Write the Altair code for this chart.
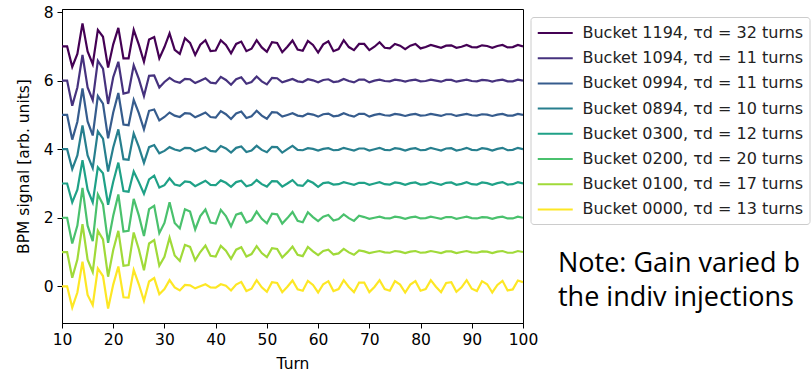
import altair as alt
import pandas as pd

turns = list(range(10, 101))
x_ticks = [10, 20, 30, 40, 50, 60, 70, 80, 90, 100]
y_ticks = [0, 2, 4, 6, 8]

buckets = [
    "Bucket 1194, τd = 32 turns",
    "Bucket 1094, τd = 11 turns",
    "Bucket 0994, τd = 11 turns",
    "Bucket 0894, τd = 10 turns",
    "Bucket 0300, τd = 12 turns",
    "Bucket 0200, τd = 20 turns",
    "Bucket 0100, τd = 17 turns",
    "Bucket 0000, τd = 13 turns",
]
colors = ["#440154", "#46327e", "#365c8d", "#277f8e",
          "#1fa187", "#4ac16d", "#a0da39", "#fde725"]

s1194 = [7.00, 7.00, 6.40, 6.78, 7.67, 6.85, 6.48, 7.48, 7.28, 6.38,
         7.06, 7.54, 6.65, 6.65, 7.48, 7.05, 6.55, 7.20, 7.27, 6.65,
         6.98, 7.38, 6.90, 6.78, 7.24, 7.10, 6.75, 7.05, 7.18, 6.86,
         6.88, 7.18, 7.04, 6.80, 7.07, 7.14, 6.86, 6.93, 7.18, 6.97,
         6.84, 7.12, 7.10, 6.83, 6.99, 7.17, 6.91, 6.87, 7.16, 7.04,
         6.82, 7.06, 7.15, 6.86, 6.92, 7.18, 6.98, 6.89, 7.07, 7.07,
         6.89, 6.99, 7.12, 6.96, 6.94, 7.07, 7.02, 6.92, 7.02, 7.07,
         6.94, 6.98, 7.04, 7.00, 6.96, 7.02, 7.03, 6.96, 6.99, 7.04,
         6.98, 6.97, 7.03, 7.01, 6.96, 7.01, 7.04, 6.97, 6.98, 7.04, 7.00]
s1094 = [6.00, 6.00, 5.27, 5.80, 6.75, 5.80, 5.43, 6.58, 6.35, 5.32,
         6.10, 6.55, 5.62, 5.66, 6.45, 6.05, 5.55, 6.14, 6.15, 5.80,
         5.96, 6.08, 5.98, 5.94, 6.05, 6.04, 5.93, 6.00, 6.07, 5.94,
         5.92, 6.11, 6.02, 5.88, 6.04, 6.10, 5.91, 5.96, 6.12, 5.98,
         5.89, 6.08, 6.07, 5.95, 6.00, 6.05, 5.98, 5.96, 6.04, 6.01,
         5.95, 6.02, 6.04, 5.96, 5.98, 6.05, 5.99, 5.95, 6.03, 6.03,
         5.95, 6.00, 6.03, 5.99, 5.98, 6.03, 6.01, 5.97, 6.01, 6.03,
         5.98, 5.99, 6.03, 6.00, 5.97, 6.02, 6.02, 5.97, 6.00, 6.03,
         5.99, 5.98, 6.02, 6.01, 5.97, 6.01, 6.03, 5.98, 5.98, 6.03, 6.00]
s0994 = [5.00, 5.00, 4.28, 4.80, 5.77, 4.81, 4.40, 5.55, 5.33, 4.32,
         5.07, 5.64, 4.72, 4.70, 5.44, 5.05, 4.58, 5.12, 5.16, 4.84,
         4.94, 5.07, 4.98, 4.94, 5.05, 5.04, 4.93, 5.00, 5.07, 4.94,
         4.92, 5.11, 5.02, 4.88, 5.04, 5.10, 4.91, 4.96, 5.12, 4.98,
         4.89, 5.08, 5.07, 4.95, 5.00, 5.05, 4.98, 4.96, 5.04, 5.01,
         4.95, 5.02, 5.04, 4.96, 4.98, 5.05, 4.99, 4.95, 5.03, 5.03,
         4.95, 5.00, 5.03, 4.99, 4.98, 5.03, 5.01, 4.97, 5.01, 5.03,
         4.98, 4.99, 5.03, 5.00, 4.97, 5.02, 5.02, 4.97, 5.00, 5.03,
         4.99, 4.98, 5.02, 5.01, 4.97, 5.01, 5.03, 4.98, 4.98, 5.03, 5.00]
s0894 = [4.00, 4.00, 3.42, 3.82, 4.69, 3.82, 3.45, 4.52, 4.31, 3.35,
         4.05, 4.58, 3.71, 3.69, 4.46, 4.07, 3.60, 4.06, 4.12, 3.88,
         3.95, 4.06, 3.99, 3.95, 4.04, 4.03, 3.94, 4.00, 4.06, 3.95,
         3.93, 4.09, 4.02, 3.90, 4.04, 4.08, 3.92, 3.96, 4.10, 3.98,
         3.91, 4.07, 4.06, 3.90, 4.00, 4.10, 3.98, 3.97, 4.03, 4.01,
         3.96, 4.01, 4.03, 3.97, 3.98, 4.04, 4.00, 3.96, 4.02, 4.02,
         3.96, 4.00, 4.04, 3.98, 3.97, 4.03, 4.01, 3.96, 4.01, 4.03,
         3.97, 3.98, 4.04, 4.00, 3.96, 4.02, 4.03, 3.96, 3.99, 4.04,
         3.98, 3.97, 4.03, 4.01, 3.96, 4.01, 4.04, 3.97, 3.98, 4.04, 4.00]
s0300 = [3.00, 3.00, 2.45, 2.82, 3.68, 2.82, 2.45, 3.47, 3.30, 2.38,
         3.05, 3.61, 2.78, 2.76, 3.35, 3.04, 2.70, 3.12, 3.23, 2.88,
         2.95, 3.15, 2.97, 2.93, 3.06, 3.04, 2.92, 3.00, 3.08, 2.96,
         2.95, 3.09, 3.02, 2.90, 3.04, 3.08, 2.92, 2.96, 3.10, 2.98,
         2.91, 3.07, 3.06, 2.91, 3.00, 3.10, 2.95, 2.93, 3.09, 3.02,
         2.90, 3.01, 3.03, 2.97, 2.98, 3.04, 3.00, 2.96, 3.02, 3.02,
         2.96, 3.00, 3.04, 2.98, 2.97, 3.03, 3.01, 2.96, 3.01, 3.03,
         2.97, 2.98, 3.04, 3.00, 2.96, 3.02, 3.03, 2.96, 2.99, 3.04,
         2.98, 2.97, 3.03, 3.01, 2.96, 3.01, 3.04, 2.97, 2.98, 3.04, 3.00]
s0200 = [2.00, 2.00, 1.25, 1.77, 2.87, 1.77, 1.32, 2.68, 2.39, 1.27,
         2.06, 2.68, 1.60, 1.62, 2.55, 2.07, 1.47, 2.25, 2.35, 1.55,
         1.85, 2.45, 1.85, 1.69, 2.25, 2.18, 1.66, 2.05, 2.24, 1.86,
         1.83, 2.23, 2.05, 1.75, 2.09, 2.14, 1.86, 1.93, 2.18, 1.97,
         1.84, 2.12, 2.10, 1.83, 1.99, 2.17, 1.91, 1.87, 2.16, 2.02,
         1.90, 2.03, 2.08, 1.92, 1.96, 2.10, 1.99, 1.91, 2.06, 2.02,
         1.97, 2.00, 2.03, 1.99, 1.98, 2.03, 2.01, 1.97, 2.01, 2.03,
         1.98, 1.99, 2.03, 2.00, 1.97, 2.02, 2.02, 1.97, 2.00, 2.03,
         1.99, 1.98, 2.02, 2.01, 1.97, 2.01, 2.03, 1.98, 1.98, 2.03, 2.00]
s0100 = [1.00, 1.00, 0.25, 0.78, 1.81, 0.78, 0.42, 1.62, 1.37, 0.28,
         1.06, 1.62, 0.60, 0.62, 1.57, 1.08, 0.47, 1.25, 1.35, 0.60,
         0.86, 1.42, 0.90, 0.74, 1.21, 1.15, 0.76, 1.00, 1.19, 0.89,
         0.87, 1.18, 1.04, 0.80, 1.07, 1.14, 0.87, 0.94, 1.17, 0.97,
         0.85, 1.11, 1.09, 0.84, 0.99, 1.16, 0.92, 0.88, 1.15, 1.02,
         0.91, 1.03, 1.07, 0.93, 0.96, 1.09, 0.99, 0.92, 1.05, 1.02,
         0.97, 1.00, 1.03, 0.99, 0.98, 1.03, 1.01, 0.97, 1.01, 1.03,
         0.98, 0.99, 1.03, 1.00, 0.97, 1.02, 1.02, 0.97, 1.00, 1.03,
         0.99, 0.98, 1.02, 1.01, 0.97, 1.01, 1.03, 0.98, 0.98, 1.03, 1.00]
s0000 = [0.00, 0.00, -0.62, -0.18, 0.72, -0.25, -0.55, 0.52, 0.30, -0.65,
         0.05, 0.58, -0.32, -0.33, 0.48, 0.06, -0.42, 0.14, 0.24, -0.23,
         -0.08, 0.18, -0.03, -0.12, 0.04, 0.03, -0.06, 0.00, 0.06, -0.03,
         -0.04, 0.06, 0.02, -0.12, 0.05, 0.13, -0.14, -0.07, 0.18, -0.03,
         -0.16, 0.12, 0.10, -0.17, -0.01, 0.17, -0.09, -0.13, 0.16, 0.04,
         -0.18, 0.06, 0.15, -0.14, -0.08, 0.18, -0.02, -0.17, 0.11, 0.11,
         -0.17, -0.02, 0.18, -0.08, -0.13, 0.15, 0.05, -0.18, 0.05, 0.15,
         -0.13, -0.08, 0.18, -0.01, -0.17, 0.10, 0.12, -0.16, -0.03, 0.18,
         -0.07, -0.14, 0.15, 0.06, -0.18, 0.04, 0.16, -0.12, -0.09, 0.17, 0.12]

series = [s1194, s1094, s0994, s0894, s0300, s0200, s0100, s0000]
note_lines = ["Note: Gain varied b", "the indiv injections"]

rows = []
for label, vals in zip(buckets, series):
    for t, v in zip(turns, vals):
        rows.append({"Turn": t, "signal": v, "bucket": label})
df = pd.DataFrame(rows)

FONT = "DejaVu Sans"

lines = alt.Chart(df).mark_line(strokeWidth=2.2, clip=True).encode(
    x=alt.X("Turn:Q",
            scale=alt.Scale(domain=[10, 100], nice=False, zero=False),
            axis=alt.Axis(values=x_ticks, title="Turn", format="d", titlePadding=9)),
    y=alt.Y("signal:Q",
            scale=alt.Scale(domain=[-1.07, 8.09], nice=False, zero=False),
            axis=alt.Axis(values=y_ticks, title="BPM signal [arb. units]", format="d",
                          titlePadding=12)),
    color=alt.Color("bucket:N",
                    scale=alt.Scale(domain=buckets, range=colors),
                    sort=buckets,
                    legend=alt.Legend(
                        title=None, orient="none", legendX=468.5, legendY=8,
                        symbolType="M-1,0H3", symbolSize=306, symbolStrokeWidth=2,
                        labelFont=FONT, labelFontSize=16, labelColor="#222222",
                        labelLimit=0, labelOffset=26, rowPadding=7.2,
                        strokeColor="#cccccc", fillColor="white", padding=6,
                        cornerRadius=3)),
)

note = alt.Chart(pd.DataFrame({"k": [0]})).mark_text(
    text=note_lines, font="Open Sans", fontSize=27, align="left",
    baseline="alphabetic", lineHeight=34, color="black"
).encode(x=alt.value(496), y=alt.value(262.5))

chart = alt.layer(lines, note).properties(
    width=461, height=314,
    autosize=alt.AutoSizeParams(type="none"),
    padding={"left": 62, "top": 9, "right": 288, "bottom": 51},
).configure_view(
    stroke="black", strokeWidth=1
).configure_axis(
    labelFont=FONT, labelFontSize=15.5, labelColor="black",
    titleFont=FONT, titleFontSize=15.5, titleFontWeight="normal", titleColor="black",
    domainColor="black", tickColor="black", tickSize=5, grid=False,
    labelPadding=4, labelFlush=False
)

chart.save("out.html", embed_options={"renderer": "svg", "actions": False})
